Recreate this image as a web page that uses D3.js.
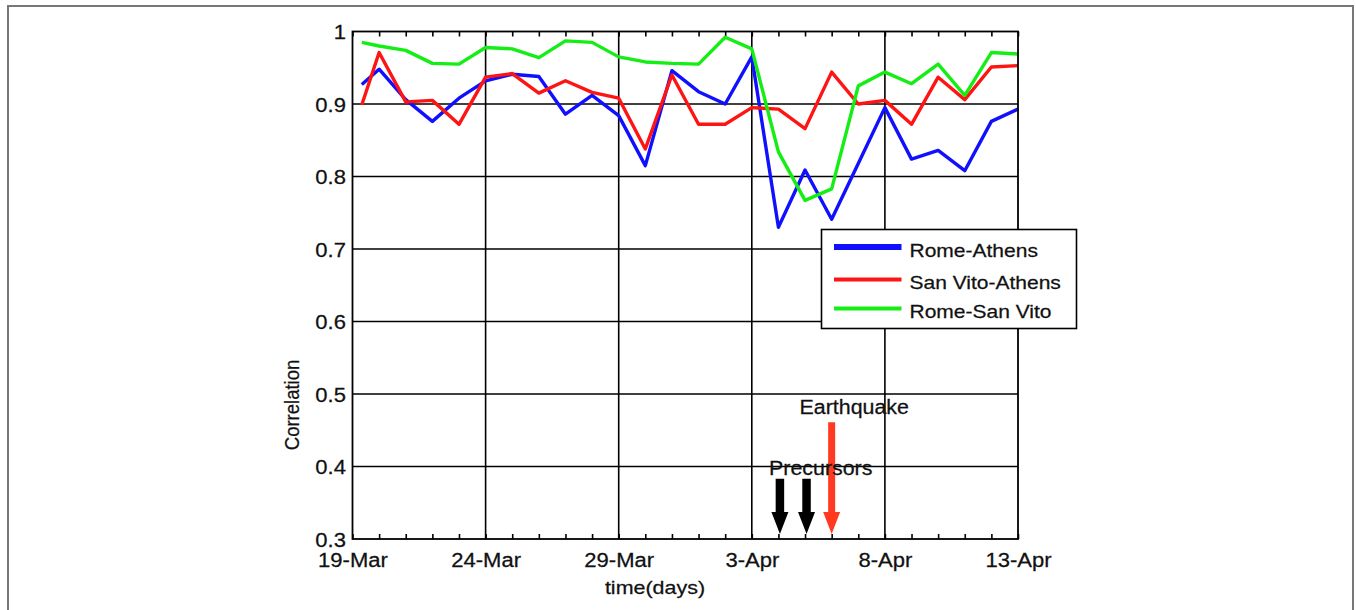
<!DOCTYPE html>
<html>
<head>
<meta charset="utf-8">
<script src="https://cdn.jsdelivr.net/npm/d3@7"></script>
<style>
  html, body { margin: 0; padding: 0; background: #fff; }
  svg text { font-family: "Liberation Sans", Arial, Helvetica, sans-serif; fill: #111; stroke: #111; stroke-width: 0.25px; }
</style>
</head>
<body>
<div id="chart"></div>
<script>
// days since 19-Mar (the first sample sits a little after midnight)
var dayOffsets = [0.35, 1, 2, 3, 4, 5, 6, 7, 8, 9, 10, 11, 12, 13, 14, 15, 16, 17, 18, 19, 20, 21, 22, 23, 24, 25];

var romeAthens = [0.927, 0.948, 0.906, 0.876, 0.908, 0.932, 0.941, 0.938, 0.886, 0.912, 0.884, 0.815, 0.946,
	0.917, 0.900, 0.965, 0.730, 0.809, 0.741, 0.818, 0.895, 0.824, 0.836, 0.808, 0.876, 0.893];
var sanVitoAthens = [0.899, 0.971, 0.903, 0.905, 0.872, 0.937, 0.942, 0.915, 0.932, 0.916, 0.908, 0.838, 0.940,
	0.872, 0.872, 0.895, 0.893, 0.866, 0.944, 0.900, 0.905, 0.872, 0.937, 0.906, 0.951, 0.953];
var romeSanVito = [0.985, 0.980, 0.974, 0.956, 0.955, 0.978, 0.976, 0.964, 0.987, 0.985, 0.965, 0.958, 0.956,
	0.955, 0.992, 0.976, 0.834, 0.767, 0.783, 0.925, 0.944, 0.928, 0.955, 0.912, 0.971, 0.969];

var seriesNames = ["Rome-Athens", "San Vito-Athens", "Rome-San Vito"];
var seriesColors = ["#1010ff", "#ff1414", "#14ee14"];

var xTickLabels = ["19-Mar", "24-Mar", "29-Mar", "3-Apr", "8-Apr", "13-Apr"];
var yTickValues = [0.3, 0.4, 0.5, 0.6, 0.7, 0.8, 0.9, 1];

// annotation arrows: day offset, top value, tip value
var precursorDays = [16, 17];
var precursorTop = 0.383;
var quakeDay = 18;
var quakeTop = 0.461;
var arrowTip = 0.307;

var W = 1356, H = 610;
var SX = 1.13; // the source picture is stretched sideways a bit

var start = new Date(Date.UTC(2009, 2, 19));
function toDate(d) { return new Date(start.getTime() + d * 864e5); }

var margin = { top: 31.5, left: 352.5 };
var width = 1018 - margin.left,
	height = 539 - margin.top;

var x = d3.scaleUtc()
	.domain([start, toDate(25)])
	.range([0, width]);
var y = d3.scaleLinear()
	.domain([0.3, 1])
	.range([height, 0]);

var svg = d3.select("#chart").append("svg")
	.attr("width", W)
	.attr("height", H);

// outer frame of the figure
svg.append("rect")
	.attr("x", 8).attr("y", 6)
	.attr("width", 1345).attr("height", 620)
	.attr("fill", "none")
	.attr("stroke", "#777")
	.attr("stroke-width", 2);

var main = svg.append("g")
	.attr("transform", "translate(" + margin.left + "," + margin.top + ")");

// grid
var majorDays = [0, 5, 10, 15, 20, 25];
main.append("g").attr("class", "grid")
	.selectAll("line.vx")
	.data(majorDays.slice(1, -1))
	.enter().append("line")
	.attr("x1", function(d) { return x(toDate(d)); })
	.attr("x2", function(d) { return x(toDate(d)); })
	.attr("y1", 0).attr("y2", height)
	.attr("stroke", "#000").attr("stroke-width", 1.6);
main.append("g").attr("class", "grid")
	.selectAll("line.hy")
	.data(yTickValues.slice(1, -1))
	.enter().append("line")
	.attr("x1", 0).attr("x2", width)
	.attr("y1", function(d) { return y(d); })
	.attr("y2", function(d) { return y(d); })
	.attr("stroke", "#000").attr("stroke-width", 1.6);

// daily minor ticks, top and bottom
var allDays = d3.range(0, 26).map(toDate);
main.append("g")
	.attr("transform", "translate(0," + height + ")")
	.call(d3.axisTop(x).tickValues(allDays).tickFormat("").tickSizeInner(5).tickSizeOuter(0))
	.call(function(g) { g.select(".domain").remove(); })
	.selectAll("line").attr("stroke-width", 1.6);
main.append("g")
	.call(d3.axisBottom(x).tickValues(allDays).tickFormat("").tickSizeInner(5).tickSizeOuter(0))
	.call(function(g) { g.select(".domain").remove(); })
	.selectAll("line").attr("stroke-width", 1.6);

// x labels
var xAxis = main.append("g")
	.attr("transform", "translate(0," + height + ")")
	.call(d3.axisBottom(x)
		.tickValues(majorDays.map(toDate))
		.tickFormat(function(d, i) { return xTickLabels[i]; })
		.tickSize(0)
		.tickPadding(0));
xAxis.select(".domain").remove();
xAxis.selectAll("text")
	.attr("y", 0).attr("dy", 0)
	.attr("transform", "translate(0,28) scale(" + SX + ",1)")
	.style("font-size", "19.5px")
	.style("fill", "#111")
	.style("font-family", "Liberation Sans, Arial, sans-serif");

// y labels
var yAxis = main.append("g")
	.call(d3.axisLeft(y)
		.tickValues(yTickValues)
		.tickFormat(function(d) { return d === 1 ? "1" : d.toFixed(1); })
		.tickSize(0)
		.tickPadding(0));
yAxis.select(".domain").remove();
yAxis.selectAll("text")
	.attr("x", 0).attr("dy", "0.36em")
	.attr("transform", "translate(-6.5,0) scale(" + SX + ",1)")
	.style("font-size", "19.5px")
	.style("fill", "#111")
	.style("font-family", "Liberation Sans, Arial, sans-serif");

// series lines
var allSeries = [romeAthens, sanVitoAthens, romeSanVito];
var line = d3.line()
	.x(function(d, i) { return x(toDate(dayOffsets[i])); })
	.y(function(d) { return y(d); });

main.append("g").attr("class", "lines")
	.selectAll("path")
	.data(allSeries)
	.enter().append("path")
	.attr("d", line)
	.attr("fill", "none")
	.attr("stroke", function(d, i) { return seriesColors[i]; })
	.attr("stroke-width", 3.4)
	.attr("stroke-linejoin", "round");

// axes box
main.append("rect")
	.attr("width", width).attr("height", height)
	.attr("fill", "none")
	.attr("stroke", "#000")
	.attr("stroke-width", 1.8);

// arrows
function arrowPath(cx, yTop, yTip, shaft, headW, headH) {
	var hs = shaft / 2, hw = headW / 2, yh = yTip - headH;
	return "M" + (cx - hs) + "," + yTop + "L" + (cx + hs) + "," + yTop +
		"L" + (cx + hs) + "," + yh + "L" + (cx + hw) + "," + yh +
		"L" + cx + "," + yTip + "L" + (cx - hw) + "," + yh +
		"L" + (cx - hs) + "," + yh + "Z";
}
main.append("g").selectAll("path")
	.data(precursorDays)
	.enter().append("path")
	.attr("d", function(d) {
		return arrowPath(x(toDate(d)) + 1.5, y(precursorTop), y(arrowTip), 8.5, 17, 22);
	})
	.attr("fill", "#000");
main.append("path")
	.attr("d", arrowPath(x(toDate(quakeDay)), y(quakeTop), y(arrowTip), 7, 17, 22))
	.attr("fill", "#ff3a20");

svg.append("text")
	.attr("transform", "translate(799.5,413.5) scale(1.07,1)")
	.style("font-size", "20px")
	.text("Earthquake");
svg.append("text")
	.attr("transform", "translate(769,474.5) scale(1.07,1)")
	.style("font-size", "20px")
	.text("Precursors");

// axis titles
svg.append("text")
	.attr("transform", "translate(655,594) scale(" + SX + ",1)")
	.attr("text-anchor", "middle")
	.style("font-size", "19px")
	.text("time(days)");
svg.append("text")
	.attr("transform", "translate(299,405) scale(" + SX + ",1) rotate(-90)")
	.attr("text-anchor", "middle")
	.style("font-size", "18.5px")
	.text("Correlation");

// legend
var legend = svg.append("g").attr("transform", "translate(821.5,229.5)");
legend.append("rect")
	.attr("width", 255).attr("height", 99)
	.attr("fill", "#fff")
	.attr("stroke", "#000")
	.attr("stroke-width", 1.6);
var legendRows = [17.5, 50, 79];
var legendItem = legend.selectAll("g.item")
	.data(seriesNames)
	.enter().append("g")
	.attr("class", "item")
	.attr("transform", function(d, i) { return "translate(0," + legendRows[i] + ")"; });
legendItem.append("line")
	.attr("x1", 12.5).attr("x2", 80)
	.attr("stroke", function(d, i) { return seriesColors[i]; })
	.attr("stroke-width", function(d, i) { return i === 0 ? 6 : 4; });
legendItem.append("text")
	.attr("transform", "translate(88,9.5) scale(" + SX + ",1)")
	.style("font-size", "18.6px")
	.text(function(d) { return d; });
</script>
</body>
</html>
